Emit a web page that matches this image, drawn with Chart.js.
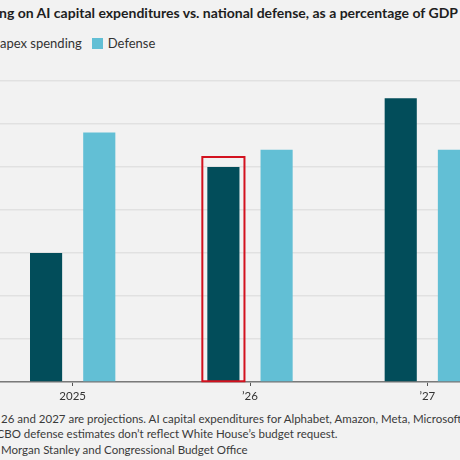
<!DOCTYPE html>
<html>
<head>
<meta charset="utf-8">
<script src="https://cdn.jsdelivr.net/npm/chart.js@4"></script>
<style>
  html, body { margin: 0; padding: 0; background: #f2f2f2; }
  body { width: 460px; height: 460px; position: relative; overflow: hidden; font-family: Lato, "Open Sans", sans-serif; }
  .line { position: absolute; left: 0; white-space: nowrap; }
  #title { top: 4px; left: -1px; font-size: 14px; font-weight: bold; color: #1e1e1e; }
  #legend { top: 35px; font-size: 13px; color: #333; }
  #legend .sw { display: inline-block; width: 11px; height: 11px; vertical-align: -1px; margin-right: 5px; }
  #legend .item { margin-right: 10px; }
  .note { font-size: 11.5px; color: #3a3a3a; }
  #n1 { top: 412px; left: 1px; }
  #n2 { top: 427px; }
  #n3 { top: 443px; left: 1px; }
  #wrap { position: absolute; left: -16px; top: 79px; width: 532px; height: 333px; }
</style>
</head>
<body>
<div id="title" class="line">ng on AI capital expenditures vs. national defense, as a percentage of GDP</div>
<div id="legend" class="line"><span class="item" id="lg0"><span class="sw" id="sw0"></span>AI capex spending</span><span class="item"><span class="sw" id="sw1"></span>Defense</span></div>
<div id="n1" class="line note">26 and 2027 are projections. AI capital expenditures for Alphabet, Amazon, Meta, Microsoft and Oracle.</div>
<div id="n2" class="line note"><span id="cut2">C</span>BO defense estimates don’t reflect White House’s budget request.</div>
<div id="n3" class="line note">Morgan Stanley and Congressional Budget Office</div>
<div id="wrap"><canvas id="chart"></canvas></div>
<script>
const years = ["2025", "’26", "’27"];
const capexShare = [1.5, 2.5, 3.3];
const defenseShare = [2.9, 2.7, 2.7];
const seriesNames = ["AI capex spending", "Defense"];
const seriesColors = ["#024d5a", "#62bfd5"];
const highlightIndex = 1;

document.addEventListener("DOMContentLoaded", () => {
    // legend swatches, with the first label pushed off the left edge like the crop
    document.getElementById("sw0").style.background = seriesColors[0];
    document.getElementById("sw1").style.background = seriesColors[1];
    const lg0 = document.getElementById("lg0");
    const visible = lg0.getBoundingClientRect().width;
    const probe = document.createElement("span");
    probe.style.visibility = "hidden";
    probe.textContent = "apex spending";
    lg0.appendChild(probe);
    const keep = probe.getBoundingClientRect().width;
    lg0.removeChild(probe);
    document.getElementById("legend").style.left = (keep - visible) + "px";
    const cut = document.getElementById("cut2");
    document.getElementById("n2").style.left = -(cut.getBoundingClientRect().width * 0.45) + "px";

    // red box around the highlighted bar
    const highlightBox = {
        id: "highlightBox",
        afterDatasetsDraw(chart) {
            const bar = chart.getDatasetMeta(0).data[highlightIndex];
            if (!bar) return;
            const ctx = chart.ctx;
            const half = bar.width / 2 + 5;
            ctx.save();
            ctx.strokeStyle = "#d3121f";
            ctx.lineWidth = 2;
            ctx.strokeRect(bar.x - half, bar.y - 10, half * 2, bar.base - bar.y + 10);
            ctx.restore();
        },
    };

    new Chart(document.getElementById("chart"), {
        type: "bar",
        data: {
            labels: years,
            datasets: [
                {
                    label: seriesNames[0],
                    data: capexShare,
                    backgroundColor: seriesColors[0],
                    categoryPercentage: 0.6,
                    barPercentage: 0.604,
                },
                {
                    label: seriesNames[1],
                    data: defenseShare,
                    backgroundColor: seriesColors[1],
                    categoryPercentage: 0.6,
                    barPercentage: 0.604,
                },
            ],
        },
        options: {
            responsive: true,
            maintainAspectRatio: false,
            animation: false,
            layout: { padding: { top: 2, left: 0, right: 0, bottom: 0 } },
            plugins: {
                legend: { display: false },
                title: { display: false },
                tooltip: { enabled: false },
            },
            scales: {
                x: {
                    grid: {
                        offset: false,
                        drawOnChartArea: false,
                        drawTicks: true,
                        tickLength: 4,
                        color: "#555",
                    },
                    border: { display: true, color: "#7a7a7a", width: 1.5 },
                    ticks: {
                        color: "#333",
                        padding: 3,
                        font: { family: "Lato", size: 11.5 },
                    },
                    afterFit: (scale) => { scale.height = 30; },
                },
                y: {
                    min: 0,
                    max: 3.5,
                    ticks: { display: false, stepSize: 0.5 },
                    border: { display: false },
                    grid: { color: "#e1e1e1", lineWidth: 1.5, drawTicks: false },
                    afterFit: (scale) => { scale.width = 0; },
                },
            },
        },
        plugins: [highlightBox],
    });
});
</script>
</body>
</html>
